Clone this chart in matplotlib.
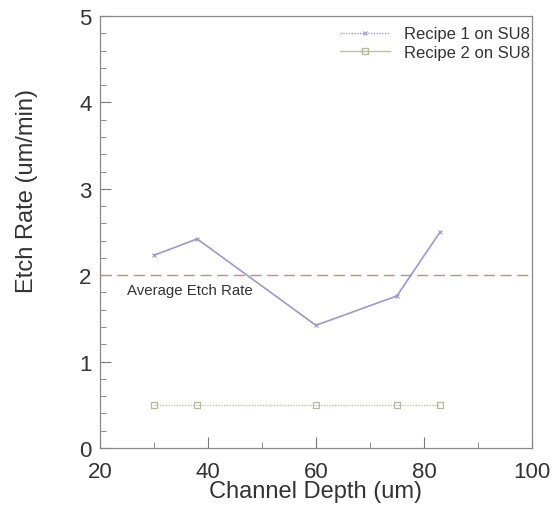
import matplotlib
matplotlib.use("Agg")
import matplotlib.pyplot as plt
from matplotlib.lines import Line2D
from matplotlib.ticker import MultipleLocator

plt.rcParams['font.family'] = ['Liberation Sans', 'DejaVu Sans']

depth1 = [30, 38, 60, 75, 83]
rate1 = [2.23, 2.42, 1.42, 1.76, 2.50]
depth2 = [30, 38, 60, 75, 83]
rate2 = [0.50, 0.50, 0.50, 0.50, 0.50]
avg_rate = 2.0
series_names = ["Recipe 1 on SU8", "Recipe 2 on SU8"]

c1 = '#9a9ac8'
c2 = '#c0c0a8'
txt = '#333333'

fig = plt.figure(figsize=(5.54, 5.10), dpi=100)
ax = fig.add_axes([0.1805, 0.1196, 0.7795, 0.8471])

ax.axhline(avg_rate, color='#c08c8c', lw=1.0, dashes=(8, 4))
ax.plot(depth1, rate1, color=c1, lw=1.2, marker='x', ms=3, mew=0.8)
ax.plot(depth2, rate2, color=c2, lw=1.0, ls=(0, (1, 1)), marker='s', ms=5,
        mfc='none', mec='#b8b8a0', mew=0.9)

ax.text(25, 1.83, "Average Etch Rate", fontsize=10.8, color=txt, va='center', ha='left')

ax.set_xlim(20, 100)
ax.set_ylim(0, 5)
ax.xaxis.set_major_locator(MultipleLocator(20))
ax.xaxis.set_minor_locator(MultipleLocator(10))
ax.yaxis.set_major_locator(MultipleLocator(1))
ax.yaxis.set_minor_locator(MultipleLocator(0.2))
ax.tick_params(which='both', direction='in', colors='#777777', labelcolor=txt,
               top=False, right=False)
ax.tick_params(which='major', length=8, labelsize=16)
ax.tick_params(axis='y', which='major', pad=6)
ax.tick_params(axis='x', which='major', pad=9)
ax.tick_params(which='minor', length=4)
for s in ax.spines.values():
    s.set_color('#888888')
    s.set_linewidth(0.9)

ax.set_xlabel("Channel Depth (um)", fontsize=17, color=txt, labelpad=-1)
ax.set_ylabel("Etch Rate (um/min)", fontsize=17, color=txt)
ax.yaxis.set_label_coords(-0.143, 0.597)

handles = [
    Line2D([], [], color=c1, lw=1.0, ls=(0, (1, 1)), marker='x', ms=3, mew=0.8),
    Line2D([], [], color=c2, lw=1.0, marker='s', ms=4, mfc='none', mec='#b8b8a0'),
]
ax.legend(handles, series_names, loc='upper right', frameon=False, fontsize=12,
          handlelength=3.0, borderaxespad=0.1, labelspacing=0.2, handletextpad=0.8,
          labelcolor=txt, bbox_to_anchor=(1.014, 0.995))

fig.savefig("out.png", dpi=100, facecolor='white')
